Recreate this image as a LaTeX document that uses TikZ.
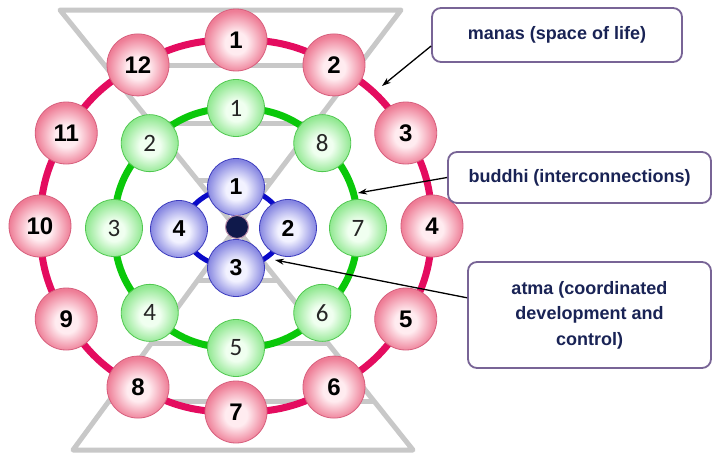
\documentclass[tikz,border=0pt]{standalone}
\usepackage{fontspec}
\setmainfont{Liberation Sans}
\newfontfamily\carlito{Carlito}
\usetikzlibrary{arrows.meta}
\definecolor{ringred}{RGB}{228,12,95}
\definecolor{ringgreen}{RGB}{10,200,10}
\definecolor{ringblue}{RGB}{10,10,200}
\definecolor{redin}{RGB}{255,236,240}
\definecolor{redout}{RGB}{238,125,150}
\definecolor{redline}{RGB}{215,95,125}
\definecolor{greenin}{RGB}{240,255,240}
\definecolor{greenout}{RGB}{145,232,145}
\definecolor{greenline}{RGB}{80,200,80}
\definecolor{bluein}{RGB}{242,242,255}
\definecolor{blueout}{RGB}{135,135,225}
\definecolor{blueline}{RGB}{60,60,190}
\definecolor{hgray}{RGB}{200,200,200}
\definecolor{boxline}{RGB}{120,100,150}
\definecolor{navytext}{RGB}{25,35,85}
\definecolor{dotfill}{RGB}{15,25,75}
\definecolor{dotline}{RGB}{185,140,170}
\pgfdeclareradialshading{sphred}{\pgfpoint{0bp}{-3bp}}{color(0bp)=(redin); color(9bp)=(redin); color(25bp)=(redout); color(50bp)=(redout)}
\pgfdeclareradialshading{sphgreen}{\pgfpoint{0bp}{-3bp}}{color(0bp)=(greenin); color(9bp)=(greenin); color(25bp)=(greenout); color(50bp)=(greenout)}
\pgfdeclareradialshading{sphblue}{\pgfpoint{0bp}{-3bp}}{color(0bp)=(bluein); color(9bp)=(bluein); color(25bp)=(blueout); color(50bp)=(blueout)}
\pgfdeclarelayer{back}
\pgfdeclarelayer{mid}
\pgfsetlayers{back,mid,main}
\tikzset{
  hg/.style={draw=hgray, line width=5pt, line join=round},
  rnode/.style={circle, minimum size=62pt, inner sep=0pt, draw=redline, line width=0.8pt, shading=sphred, text=black, font=\fontsize{24}{24}\selectfont\bfseries},
  gnode/.style={circle, minimum size=57pt, inner sep=0pt, draw=greenline, line width=0.8pt, shading=sphgreen, text=black!85, font=\carlito\fontsize{25}{25}\selectfont},
  bnode/.style={circle, minimum size=57pt, inner sep=0pt, draw=blueline, line width=0.8pt, shading=sphblue, text=black, font=\fontsize{23}{23}\selectfont\bfseries},
  redring/.style={draw=ringred, line width=7pt},
  greenring/.style={draw=ringgreen, line width=7pt},
  bluering/.style={draw=ringblue, line width=5pt},
  lbox/.style={draw=boxline, line width=1.8pt, rounded corners=9pt, fill=white, inner sep=0pt, text=navytext, font=\fontsize{18}{25.5}\selectfont\bfseries},
  arr/.style={-{Stealth[length=9pt,width=6pt]}, line width=1.3pt, black}
}
\begin{document}
\begin{tikzpicture}[x=1pt,y=-1pt]
\useasboundingbox (0,0) rectangle (713,458);
\begin{pgfonlayer}{back}
  \fill[white] (0,0) rectangle (713,458);
  % top triangle of the hourglass
  \draw[hg] (60,10) -- (401,10) -- (236,228) -- cycle;
  \draw[hg] (104.4,65) -- (359.4,65);
  \draw[hg] (151,123) -- (315.5,123);
  \draw[hg] (197,180) -- (272.3,180);
  % bottom triangle of the hourglass
  \draw[hg] (73,450) -- (413,450) -- (236,228) -- cycle;
  \draw[hg] (109,401) -- (374,401);
  \draw[hg] (151.6,343) -- (327.7,343);
  \draw[hg] (197.8,280) -- (277.5,280);
\end{pgfonlayer}

% red ring nodes (manas)
\foreach \i in {1,...,12}
  \node[rnode] (r\i) at ({236+196*sin((\i-1)*30)},{226-186*cos((\i-1)*30)}) {\i};
% green ring nodes (buddhi)
\foreach \i in {1,...,8}
  \node[gnode] (g\i) at ({236-122*sin((\i-1)*45)},{228-120*cos((\i-1)*45)}) {\i};
% blue nodes (atma)
\node[bnode] (b1) at (236,187) {1};
\node[bnode] (b2) at (288,228) {2};
\node[bnode] (b3) at (236,268) {3};
\node[bnode] (b4) at (179,229) {4};
\node[circle, minimum size=23pt, inner sep=0pt, fill=dotfill, draw=dotline, line width=1pt] (dot) at (237,227) {};

\begin{pgfonlayer}{mid}
  \foreach \i [evaluate=\i as \j using {int(mod(\i,12)+1)}] in {1,...,12}
    \draw[redring] (r\i.center) to[bend left=15] (r\j.center);
  \foreach \i [evaluate=\i as \j using {int(mod(\i,8)+1)}] in {1,...,8}
    \draw[greenring] (g\i.center) to[bend right=22] (g\j.center);
  \foreach \i [evaluate=\i as \j using {int(mod(\i,4)+1)}] in {1,...,4}
    \draw[bluering] (b\i.center) to[bend left=32] (b\j.center);
\end{pgfonlayer}

% label boxes
\node[lbox, minimum width=250pt, minimum height=54pt] (manas) at (557,35) {manas (space of life)};
\node[lbox, minimum width=263pt, minimum height=51pt] (buddhi) at (579.5,177.5) {buddhi (interconnections)};
\node[lbox, minimum width=243pt, minimum height=106pt, align=center] (atma) at (589.5,315) {atma (coordinated\\development and\\control)};

% arrows
\coordinate (tm) at (382,86);
\coordinate (tb) at (358,193);
\coordinate (ta) at (275,260);
\draw[arr] (manas.185) -- (tm);
\draw[arr] (buddhi.west) -- (tb);
\draw[arr] (atma.172) -- (ta);
\end{tikzpicture}
\end{document}
